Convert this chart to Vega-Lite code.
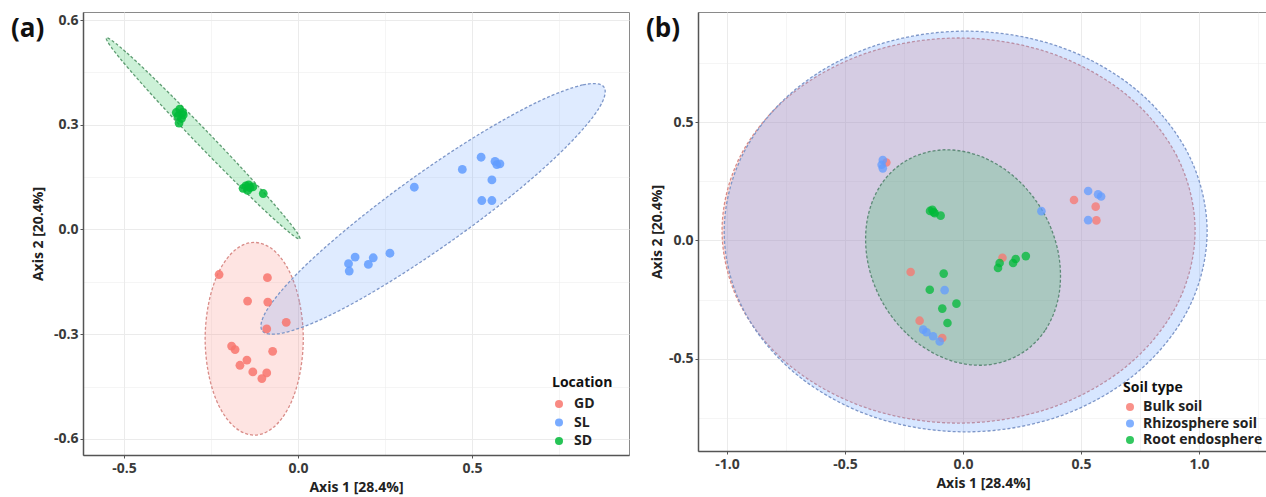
{
 "$schema": "https://vega.github.io/schema/vega-lite/v6.json",
 "padding": {"left": 10, "top": 11, "right": 0, "bottom": 0},
 "spacing": 15,
 "resolve": {"scale": {"color": "independent"}, "legend": {"color": "independent"}},
 "config": {
  "font": "Open Sans",
  "view": {"stroke": "#8a8a8a", "strokeWidth": 1},
  "axis": {"labelFont": "Open Sans", "labelFontSize": 14, "labelFontWeight": "bold", "labelColor": "#3a3a3a", "titleFont": "Open Sans", "titleFontSize": 14, "titleFontWeight": "bold", "titleColor": "#222222", "domainColor": "#555555", "domainWidth": 1.5, "tickColor": "#555555", "tickSize": 3, "gridColor": "#ebebeb", "labelOverlap": false, "labelFlush": false},
  "legend": {"labelFont": "Open Sans", "titleFont": "Open Sans", "labelFontSize": 14, "labelFontWeight": "bold", "labelColor": "#222222", "titleFontSize": 14, "titleFontWeight": "bold", "titleColor": "#111111", "padding": 0, "symbolType": "circle", "symbolSize": 64}
 },
 "datasets": {
  "ptsA": [
   {"group": "GD", "x": -0.227, "y": -0.129}, {"group": "GD", "x": -0.088, "y": -0.138}, {"group": "GD", "x": -0.145, "y": -0.205}, {"group": "GD", "x": -0.087, "y": -0.208}, {"group": "GD", "x": -0.034, "y": -0.266}, {"group": "GD", "x": -0.090, "y": -0.285}, {"group": "GD", "x": -0.191, "y": -0.334}, {"group": "GD", "x": -0.181, "y": -0.344}, {"group": "GD", "x": -0.073, "y": -0.349}, {"group": "GD", "x": -0.147, "y": -0.374}, {"group": "GD", "x": -0.167, "y": -0.389}, {"group": "GD", "x": -0.130, "y": -0.408}, {"group": "GD", "x": -0.090, "y": -0.411}, {"group": "GD", "x": -0.104, "y": -0.427},
   {"group": "SL", "x": 0.526, "y": 0.207}, {"group": "SL", "x": 0.566, "y": 0.195}, {"group": "SL", "x": 0.580, "y": 0.188}, {"group": "SL", "x": 0.571, "y": 0.186}, {"group": "SL", "x": 0.472, "y": 0.172}, {"group": "SL", "x": 0.557, "y": 0.142}, {"group": "SL", "x": 0.334, "y": 0.121}, {"group": "SL", "x": 0.528, "y": 0.083}, {"group": "SL", "x": 0.557, "y": 0.083}, {"group": "SL", "x": 0.264, "y": -0.068}, {"group": "SL", "x": 0.216, "y": -0.081}, {"group": "SL", "x": 0.202, "y": -0.100}, {"group": "SL", "x": 0.164, "y": -0.079}, {"group": "SL", "x": 0.145, "y": -0.098}, {"group": "SL", "x": 0.147, "y": -0.119},
   {"group": "SD", "x": -0.340, "y": 0.345}, {"group": "SD", "x": -0.332, "y": 0.335}, {"group": "SD", "x": -0.345, "y": 0.325}, {"group": "SD", "x": -0.335, "y": 0.318}, {"group": "SD", "x": -0.342, "y": 0.305}, {"group": "SD", "x": -0.330, "y": 0.328}, {"group": "SD", "x": -0.350, "y": 0.335},
   {"group": "SD", "x": -0.150, "y": 0.125}, {"group": "SD", "x": -0.138, "y": 0.120}, {"group": "SD", "x": -0.145, "y": 0.112}, {"group": "SD", "x": -0.158, "y": 0.118}, {"group": "SD", "x": -0.130, "y": 0.122}, {"group": "SD", "x": -0.142, "y": 0.128}, {"group": "SD", "x": -0.100, "y": 0.103}
  ],
  "ellA": [
   {"group": "GD", "k": 0, "x": 0.015, "y": -0.313}, {"group": "GD", "k": 1, "x": 0.004, "y": -0.207}, {"group": "GD", "k": 2, "x": -0.026, "y": -0.118}, {"group": "GD", "k": 3, "x": -0.072, "y": -0.058}, {"group": "GD", "k": 4, "x": -0.126, "y": -0.037}, {"group": "GD", "k": 5, "x": -0.180, "y": -0.058}, {"group": "GD", "k": 6, "x": -0.226, "y": -0.118}, {"group": "GD", "k": 7, "x": -0.256, "y": -0.207}, {"group": "GD", "k": 8, "x": -0.267, "y": -0.313}, {"group": "GD", "k": 9, "x": -0.256, "y": -0.419}, {"group": "GD", "k": 10, "x": -0.226, "y": -0.508}, {"group": "GD", "k": 11, "x": -0.180, "y": -0.568}, {"group": "GD", "k": 12, "x": -0.126, "y": -0.589}, {"group": "GD", "k": 13, "x": -0.072, "y": -0.568}, {"group": "GD", "k": 14, "x": -0.026, "y": -0.508}, {"group": "GD", "k": 15, "x": 0.004, "y": -0.419},
   {"group": "SL", "k": 0, "x": 0.879, "y": 0.408}, {"group": "SL", "k": 1, "x": 0.818, "y": 0.414}, {"group": "SL", "k": 2, "x": 0.692, "y": 0.367}, {"group": "SL", "k": 3, "x": 0.519, "y": 0.272}, {"group": "SL", "k": 4, "x": 0.327, "y": 0.145}, {"group": "SL", "k": 5, "x": 0.144, "y": 0.005}, {"group": "SL", "k": 6, "x": -0.002, "y": -0.126}, {"group": "SL", "k": 7, "x": -0.089, "y": -0.230}, {"group": "SL", "k": 8, "x": -0.103, "y": -0.290}, {"group": "SL", "k": 9, "x": -0.042, "y": -0.296}, {"group": "SL", "k": 10, "x": 0.085, "y": -0.249}, {"group": "SL", "k": 11, "x": 0.257, "y": -0.154}, {"group": "SL", "k": 12, "x": 0.449, "y": -0.027}, {"group": "SL", "k": 13, "x": 0.633, "y": 0.113}, {"group": "SL", "k": 14, "x": 0.778, "y": 0.244}, {"group": "SL", "k": 15, "x": 0.865, "y": 0.348},
   {"group": "SD", "k": 0, "x": 0.005, "y": -0.027}, {"group": "SD", "k": 1, "x": -0.010, "y": 0.001}, {"group": "SD", "k": 2, "x": -0.065, "y": 0.068}, {"group": "SD", "k": 3, "x": -0.152, "y": 0.165}, {"group": "SD", "k": 4, "x": -0.257, "y": 0.276}, {"group": "SD", "k": 5, "x": -0.365, "y": 0.385}, {"group": "SD", "k": 6, "x": -0.458, "y": 0.475}, {"group": "SD", "k": 7, "x": -0.524, "y": 0.533}, {"group": "SD", "k": 8, "x": -0.551, "y": 0.549}, {"group": "SD", "k": 9, "x": -0.536, "y": 0.521}, {"group": "SD", "k": 10, "x": -0.481, "y": 0.454}, {"group": "SD", "k": 11, "x": -0.394, "y": 0.357}, {"group": "SD", "k": 12, "x": -0.289, "y": 0.246}, {"group": "SD", "k": 13, "x": -0.181, "y": 0.137}, {"group": "SD", "k": 14, "x": -0.088, "y": 0.047}, {"group": "SD", "k": 15, "x": -0.022, "y": -0.011}
  ],
  "ptsB": [
   {"group": "Bulk soil", "x": -0.325, "y": 0.330}, {"group": "Bulk soil", "x": -0.222, "y": -0.133}, {"group": "Bulk soil", "x": -0.184, "y": -0.339}, {"group": "Bulk soil", "x": -0.088, "y": -0.412}, {"group": "Bulk soil", "x": 0.167, "y": -0.073}, {"group": "Bulk soil", "x": 0.470, "y": 0.171}, {"group": "Bulk soil", "x": 0.562, "y": 0.143}, {"group": "Bulk soil", "x": 0.565, "y": 0.085},
   {"group": "Rhizosphere soil", "x": -0.340, "y": 0.340}, {"group": "Rhizosphere soil", "x": -0.345, "y": 0.320}, {"group": "Rhizosphere soil", "x": -0.340, "y": 0.305}, {"group": "Rhizosphere soil", "x": -0.078, "y": -0.210}, {"group": "Rhizosphere soil", "x": -0.169, "y": -0.377}, {"group": "Rhizosphere soil", "x": -0.155, "y": -0.388}, {"group": "Rhizosphere soil", "x": -0.127, "y": -0.405}, {"group": "Rhizosphere soil", "x": -0.099, "y": -0.427}, {"group": "Rhizosphere soil", "x": 0.332, "y": 0.124}, {"group": "Rhizosphere soil", "x": 0.530, "y": 0.209}, {"group": "Rhizosphere soil", "x": 0.572, "y": 0.195}, {"group": "Rhizosphere soil", "x": 0.585, "y": 0.186}, {"group": "Rhizosphere soil", "x": 0.530, "y": 0.086},
   {"group": "Root endosphere", "x": -0.140, "y": 0.125}, {"group": "Root endosphere", "x": -0.125, "y": 0.120}, {"group": "Root endosphere", "x": -0.120, "y": 0.115}, {"group": "Root endosphere", "x": -0.095, "y": 0.105}, {"group": "Root endosphere", "x": -0.130, "y": 0.130}, {"group": "Root endosphere", "x": -0.082, "y": -0.140}, {"group": "Root endosphere", "x": -0.141, "y": -0.208}, {"group": "Root endosphere", "x": -0.028, "y": -0.267}, {"group": "Root endosphere", "x": -0.088, "y": -0.288}, {"group": "Root endosphere", "x": -0.066, "y": -0.349}, {"group": "Root endosphere", "x": 0.148, "y": -0.116}, {"group": "Root endosphere", "x": 0.155, "y": -0.095}, {"group": "Root endosphere", "x": 0.212, "y": -0.095}, {"group": "Root endosphere", "x": 0.223, "y": -0.078}, {"group": "Root endosphere", "x": 0.266, "y": -0.066}
  ],
  "ellB": [
   {"group": "Bulk soil", "k": 0, "x": 0.983, "y": 0.042}, {"group": "Bulk soil", "k": 1, "x": 0.907, "y": 0.354}, {"group": "Bulk soil", "k": 2, "x": 0.690, "y": 0.618}, {"group": "Bulk soil", "k": 3, "x": 0.365, "y": 0.794}, {"group": "Bulk soil", "k": 4, "x": -0.019, "y": 0.856}, {"group": "Bulk soil", "k": 5, "x": -0.403, "y": 0.794}, {"group": "Bulk soil", "k": 6, "x": -0.728, "y": 0.618}, {"group": "Bulk soil", "k": 7, "x": -0.945, "y": 0.354}, {"group": "Bulk soil", "k": 8, "x": -1.021, "y": 0.042}, {"group": "Bulk soil", "k": 9, "x": -0.945, "y": -0.270}, {"group": "Bulk soil", "k": 10, "x": -0.728, "y": -0.534}, {"group": "Bulk soil", "k": 11, "x": -0.403, "y": -0.710}, {"group": "Bulk soil", "k": 12, "x": -0.019, "y": -0.772}, {"group": "Bulk soil", "k": 13, "x": 0.365, "y": -0.710}, {"group": "Bulk soil", "k": 14, "x": 0.690, "y": -0.534}, {"group": "Bulk soil", "k": 15, "x": 0.907, "y": -0.270},
   {"group": "Rhizosphere soil", "k": 0, "x": 1.034, "y": 0.038}, {"group": "Rhizosphere soil", "k": 1, "x": 0.956, "y": 0.362}, {"group": "Rhizosphere soil", "k": 2, "x": 0.734, "y": 0.637}, {"group": "Rhizosphere soil", "k": 3, "x": 0.403, "y": 0.821}, {"group": "Rhizosphere soil", "k": 4, "x": 0.011, "y": 0.885}, {"group": "Rhizosphere soil", "k": 5, "x": -0.381, "y": 0.821}, {"group": "Rhizosphere soil", "k": 6, "x": -0.712, "y": 0.637}, {"group": "Rhizosphere soil", "k": 7, "x": -0.934, "y": 0.362}, {"group": "Rhizosphere soil", "k": 8, "x": -1.012, "y": 0.038}, {"group": "Rhizosphere soil", "k": 9, "x": -0.934, "y": -0.286}, {"group": "Rhizosphere soil", "k": 10, "x": -0.712, "y": -0.561}, {"group": "Rhizosphere soil", "k": 11, "x": -0.381, "y": -0.745}, {"group": "Rhizosphere soil", "k": 12, "x": 0.011, "y": -0.809}, {"group": "Rhizosphere soil", "k": 13, "x": 0.403, "y": -0.745}, {"group": "Rhizosphere soil", "k": 14, "x": 0.734, "y": -0.561}, {"group": "Rhizosphere soil", "k": 15, "x": 0.956, "y": -0.286},
   {"group": "Root endosphere", "k": 0, "x": 0.238, "y": -0.483}, {"group": "Root endosphere", "k": 1, "x": 0.349, "y": -0.378}, {"group": "Root endosphere", "k": 2, "x": 0.407, "y": -0.225}, {"group": "Root endosphere", "k": 3, "x": 0.403, "y": -0.049}, {"group": "Root endosphere", "k": 4, "x": 0.338, "y": 0.123}, {"group": "Root endosphere", "k": 5, "x": 0.221, "y": 0.266}, {"group": "Root endosphere", "k": 6, "x": 0.071, "y": 0.357}, {"group": "Root endosphere", "k": 7, "x": -0.090, "y": 0.383}, {"group": "Root endosphere", "k": 8, "x": -0.238, "y": 0.339}, {"group": "Root endosphere", "k": 9, "x": -0.349, "y": 0.234}, {"group": "Root endosphere", "k": 10, "x": -0.407, "y": 0.081}, {"group": "Root endosphere", "k": 11, "x": -0.403, "y": -0.095}, {"group": "Root endosphere", "k": 12, "x": -0.338, "y": -0.267}, {"group": "Root endosphere", "k": 13, "x": -0.221, "y": -0.410}, {"group": "Root endosphere", "k": 14, "x": -0.071, "y": -0.501}, {"group": "Root endosphere", "k": 15, "x": 0.090, "y": -0.527}
  ]
 },
 "hconcat": [
  {
   "width": 546, "height": 443,
   "title": {"text": "(a)", "anchor": "start", "frame": "group", "dx": -72, "offset": -30, "fontSize": 26, "fontWeight": "bold", "color": "#111111", "font": "Open Sans"},
   "encoding": {
    "x": {"field": "x", "type": "quantitative", "scale": {"domain": [-0.618, 0.951], "nice": false, "zero": false},
     "axis": {"title": "Axis 1 [28.4%]", "values": [-0.5, -0.25, 0, 0.25, 0.5, 0.75], "labelExpr": "indexof([-0.5,0,0.5], datum.value) >= 0 ? replace(format(datum.value, '.1f'), '\u2212', '-') : ''", "tickOpacity": {"condition": {"test": "indexof([-0.5,0,0.5], datum.value) >= 0", "value": 1}, "value": 0}, "gridWidth": {"condition": {"test": "indexof([-0.5,0,0.5], datum.value) >= 0", "value": 1}, "value": 0.5}, "labelPadding": 3, "titlePadding": 5}},
    "y": {"field": "y", "type": "quantitative", "scale": {"domain": [-0.646, 0.623], "nice": false, "zero": false},
     "axis": {"title": "Axis 2 [20.4%]", "values": [-0.6, -0.45, -0.3, -0.15, 0, 0.15, 0.3, 0.45, 0.6], "labelExpr": "indexof([-0.6,-0.3,0,0.3,0.6], datum.value) >= 0 ? replace(format(datum.value, '.1f'), '\u2212', '-') : ''", "tickOpacity": {"condition": {"test": "indexof([-0.6,-0.3,0,0.3,0.6], datum.value) >= 0", "value": 1}, "value": 0}, "gridWidth": {"condition": {"test": "indexof([-0.6,-0.3,0,0.3,0.6], datum.value) >= 0", "value": 1}, "value": 0.5}, "labelPadding": 2, "titlePadding": 8}}
   },
   "layer": [
    {"data": {"name": "ellA"}, "transform": [{"filter": "datum.group === 'GD'"}],
     "mark": {"type": "line", "interpolate": "cardinal-closed", "strokeDash": [3, 2], "strokeWidth": 1.3, "fill": "#F8766D", "fillOpacity": 0.2, "stroke": "#D98C88"},
     "encoding": {"order": {"field": "k", "type": "quantitative"}}},
    {"data": {"name": "ellA"}, "transform": [{"filter": "datum.group === 'SD'"}],
     "mark": {"type": "line", "interpolate": "cardinal-closed", "strokeDash": [3, 2], "strokeWidth": 1.3, "fill": "#00BA38", "fillOpacity": 0.2, "stroke": "#5E9C72"},
     "encoding": {"order": {"field": "k", "type": "quantitative"}}},
    {"data": {"name": "ellA"}, "transform": [{"filter": "datum.group === 'SL'"}],
     "mark": {"type": "line", "interpolate": "cardinal-closed", "strokeDash": [3, 2], "strokeWidth": 1.3, "fill": "#619CFF", "fillOpacity": 0.2, "stroke": "#7E97C9"},
     "encoding": {"order": {"field": "k", "type": "quantitative"}}},
    {"data": {"name": "ptsA"},
     "mark": {"type": "point", "filled": true, "size": 78, "opacity": 0.85},
     "encoding": {
      "color": {"field": "group", "type": "nominal", "scale": {"domain": ["GD", "SL", "SD"], "range": ["#F8766D", "#619CFF", "#00BA38"]},
       "legend": {"title": "Location", "orient": "none", "legendX": 469, "legendY": 364, "rowPadding": 4.5, "titlePadding": 7, "labelOffset": 8, "symbolOpacity": 0.85}}
     }}
   ]
  },
  {
   "width": 570, "height": 439,
   "title": {"text": "(b)", "anchor": "start", "frame": "group", "dx": -52, "offset": -30, "fontSize": 26, "fontWeight": "bold", "color": "#111111", "font": "Open Sans"},
   "encoding": {
    "x": {"field": "x", "type": "quantitative", "scale": {"domain": [-1.123, 1.292], "nice": false, "zero": false},
     "axis": {"title": "Axis 1 [28.4%]", "values": [-1, -0.75, -0.5, -0.25, 0, 0.25, 0.5, 0.75, 1, 1.25], "labelExpr": "indexof([-1,-0.5,0,0.5,1], datum.value) >= 0 ? replace(format(datum.value, '.1f'), '\u2212', '-') : ''", "tickOpacity": {"condition": {"test": "indexof([-1,-0.5,0,0.5,1], datum.value) >= 0", "value": 1}, "value": 0}, "gridWidth": {"condition": {"test": "indexof([-1,-0.5,0,0.5,1], datum.value) >= 0", "value": 1}, "value": 0.5}, "labelPadding": 3, "titlePadding": 5}},
    "y": {"field": "y", "type": "quantitative", "scale": {"domain": [-0.89, 0.966], "nice": false, "zero": false},
     "axis": {"title": "Axis 2 [20.4%]", "values": [-0.75, -0.5, -0.25, 0, 0.25, 0.5, 0.75], "labelExpr": "indexof([-0.5,0,0.5], datum.value) >= 0 ? replace(format(datum.value, '.1f'), '\u2212', '-') : ''", "tickOpacity": {"condition": {"test": "indexof([-0.5,0,0.5], datum.value) >= 0", "value": 1}, "value": 0}, "gridWidth": {"condition": {"test": "indexof([-0.5,0,0.5], datum.value) >= 0", "value": 1}, "value": 0.5}, "labelPadding": 2, "titlePadding": 4}}
   },
   "layer": [
    {"data": {"name": "ellB"}, "transform": [{"filter": "datum.group === 'Bulk soil'"}],
     "mark": {"type": "line", "interpolate": "cardinal-closed", "strokeDash": [3, 2], "strokeWidth": 1.3, "fill": "#F8766D", "fillOpacity": 0.25, "stroke": "#D98C88"},
     "encoding": {"order": {"field": "k", "type": "quantitative"}}},
    {"data": {"name": "ellB"}, "transform": [{"filter": "datum.group === 'Rhizosphere soil'"}],
     "mark": {"type": "line", "interpolate": "cardinal-closed", "strokeDash": [3, 2], "strokeWidth": 1.3, "fill": "#619CFF", "fillOpacity": 0.25, "stroke": "#7E97C9"},
     "encoding": {"order": {"field": "k", "type": "quantitative"}}},
    {"data": {"name": "ellB"}, "transform": [{"filter": "datum.group === 'Root endosphere'"}],
     "mark": {"type": "line", "interpolate": "cardinal-closed", "strokeDash": [3, 2], "strokeWidth": 1.3, "fill": "#00BA38", "fillOpacity": 0.2, "stroke": "#5E8A78"},
     "encoding": {"order": {"field": "k", "type": "quantitative"}}},
    {"data": {"name": "ptsB"},
     "mark": {"type": "point", "filled": true, "size": 74, "opacity": 0.75},
     "encoding": {
      "color": {"field": "group", "type": "nominal", "scale": {"domain": ["Bulk soil", "Rhizosphere soil", "Root endosphere"], "range": ["#F8766D", "#619CFF", "#00BA38"]},
       "legend": {"title": "Soil type", "orient": "none", "legendX": 425, "legendY": 369, "rowPadding": 2.5, "titlePadding": 5, "labelOffset": 6, "symbolOpacity": 0.8}}
     }}
   ]
  }
 ]
}
